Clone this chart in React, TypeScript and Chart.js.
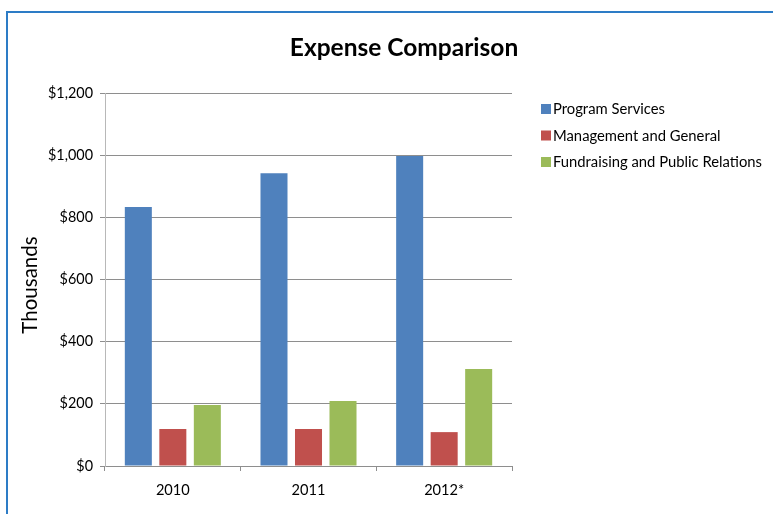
import React, { useEffect, useRef } from "react";
import { Chart, registerables } from "chart.js";

Chart.register(...registerables);

const categories = ["2010", "2011", "2012*"];
const seriesNames = ["Program Services", "Management and General", "Fundraising and Public Relations"];
const programServices = [833, 942, 997];
const managementGeneral = [119, 119, 109];
const fundraisingPR = [196, 209, 312];
const seriesColors = ["#4f81bd", "#c0504d", "#9bbb59"];
const chartTitle = "Expense Comparison";
const yAxisTitle = "Thousands";

const FONT = "Lato, 'Open Sans', sans-serif";

const titlePlugin = {
  id: "customTitle",
  afterDraw(chart: any) {
    const ctx = chart.ctx;
    ctx.save();
    ctx.font = `bold 24.5px ${FONT}`;
    ctx.fillStyle = "#000";
    ctx.textAlign = "center";
    ctx.textBaseline = "middle";
    ctx.fillText(chartTitle, 404, 48);
    // y-axis title
    ctx.font = `20.5px ${FONT}`;
    ctx.translate(30, 285);
    ctx.rotate(-Math.PI / 2);
    ctx.fillText(yAxisTitle, 0, 0);
    ctx.restore();
  },
};

const legendPlugin = {
  id: "customLegend",
  afterDraw(chart: any) {
    const ctx = chart.ctx;
    ctx.save();
    ctx.font = `14.8px ${FONT}`;
    ctx.textBaseline = "middle";
    ctx.textAlign = "left";
    chart.data.datasets.forEach((ds: any, i: number) => {
      const y = 109 + i * 26.5;
      ctx.fillStyle = ds.backgroundColor;
      ctx.fillRect(541, y - 5, 10, 10);
      ctx.fillStyle = "#000";
      ctx.fillText(ds.label, 553, y + 0.5);
    });
    ctx.restore();
  },
};

export default function App() {
  const ref = useRef<HTMLCanvasElement>(null);
  useEffect(() => {
    if (!ref.current) return;
    const values = [programServices, managementGeneral, fundraisingPR];
    const chart = new Chart(ref.current, {
      type: "bar",
      data: {
        labels: categories,
        datasets: seriesNames.map((name, i) => ({
          label: name,
          data: values[i],
          backgroundColor: seriesColors[i],
          borderWidth: 0,
          categoryPercentage: 0.763,
          barPercentage: 0.783,
        })),
      },
      options: {
        animation: false,
        responsive: false,
        maintainAspectRatio: false,
        layout: { padding: { top: 93, right: 261, left: 0, bottom: 0 } },
        plugins: {
          legend: { display: false },
          title: { display: false },
          tooltip: { enabled: false },
        },
        scales: {
          x: {
            afterFit: (scale: any) => {
              scale.height = 48;
            },
            grid: {
              offset: true,
              drawOnChartArea: false,
              drawTicks: true,
              tickLength: 5,
              color: "#8e8e8e",
            },
            border: { color: "#8e8e8e", width: 1 },
            ticks: {
              color: "#000",
              font: { family: FONT, size: 14.6 },
              padding: 11,
            },
          },
          y: {
            min: 0,
            max: 1200,
            afterFit: (scale: any) => {
              scale.width = 105;
            },
            grid: {
              color: "#8e8e8e",
              drawTicks: true,
              tickLength: 5,
            },
            border: { color: "#b8b8b8", width: 1 },
            ticks: {
              stepSize: 200,
              color: "#000",
              font: { family: FONT, size: 14.4 },
              padding: 7,
              callback: (v: any) => "$" + Number(v).toLocaleString("en-US"),
            },
            title: { display: false },
          },
        },
      },
      plugins: [titlePlugin, legendPlugin],
    });
    return () => chart.destroy();
  }, []);

  return (
    <div style={{ position: "fixed", left: 0, top: 0, width: 773, height: 514, overflow: "hidden", background: "#fff" }}>
      <div
        style={{
          position: "absolute",
          left: 6,
          top: 11,
          width: 900,
          height: 700,
          borderLeft: "2px solid #2d7cc6",
          borderTop: "2px solid #2d7cc6",
        }}
      />
      <canvas ref={ref} width={773} height={514} style={{ position: "absolute", left: 0, top: 0 }} />
    </div>
  );
}
